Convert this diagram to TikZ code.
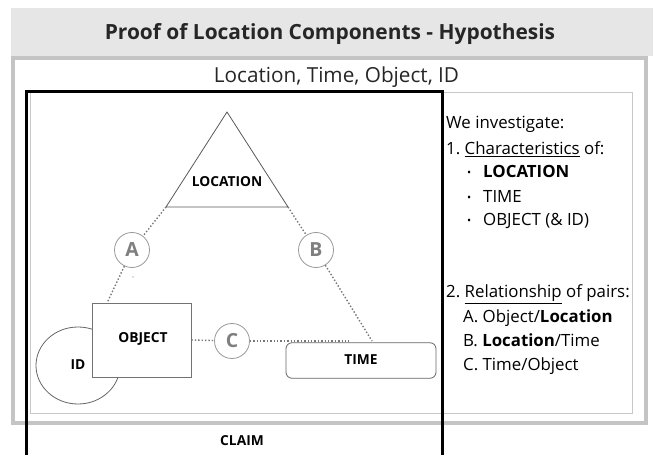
\documentclass[tikz,border=0pt]{standalone}
\usepackage{fontspec}
\setmainfont{Open Sans}
\usetikzlibrary{shapes.geometric}
\frenchspacing
\definecolor{bandgray}{HTML}{E6E6E6}
\definecolor{framegray}{HTML}{C4C4C4}
\definecolor{thingray}{HTML}{C8C8C8}
\definecolor{linkgray}{HTML}{777777}
\definecolor{lettergray}{HTML}{7F7F7F}
\tikzset{
  shapeline/.style={draw=black!65, line width=0.8bp, fill=white},
  link/.style={draw=linkgray, line width=1.4bp, dotted},
  letter/.style={circle, draw=black!40, line width=0.8bp, fill=white, minimum size=35bp, inner sep=0pt,
                 text=lettergray, font=\fontsize{19.5}{19}\selectfont\bfseries},
  label/.style={font=\fontsize{13.8}{14}\selectfont\bfseries, inner sep=0pt},
  listtext/.style={anchor=base west, inner sep=0pt, font=\fontsize{16.9}{17}\selectfont},
  bulletmark/.style={anchor=base west, inner sep=0pt, font=\fontsize{11}{11}\selectfont},
}
\begin{document}
\begin{tikzpicture}[x=1bp, y=-1bp]
  \useasboundingbox (0,0) rectangle (653,455);
  \fill[white] (0,0) rectangle (653,455);

  % header band and title
  \fill[bandgray] (11,8) rectangle (653,56);
  \node[font=\fontsize{21}{21}\selectfont\bfseries, text=black!85, anchor=base] (title) at (330,40) {Proof of Location Components - Hypothesis};

  % outer frame and inner panel
  \draw[framegray, line width=4bp] (12.5,58) rectangle (646,422.5);
  \draw[thingray, line width=1bp] (30,92.5) rectangle (632,413);
  \node[font=\fontsize{20.8}{21}\selectfont, text=black!85, anchor=base] (subtitle) at (336.5,83) {Location, Time, Object, ID};

  % claim frame, open at the bottom
  \draw[black, line width=3bp] (26,460) -- (26,91.5) -- (442.5,91.5) -- (442.5,460);
  \node[label] (claim) at (242,441) {CLAIM};

  % identity circle behind the object box
  \node[ellipse, draw=black!60, line width=0.8bp, minimum width=84bp, minimum height=77bp, inner sep=0pt] (id) at (78,365.5) {};
  \node[label] (idtext) at (78,365) {ID};

  % location triangle
  \coordinate (apex) at (227,112);
  \coordinate (locL) at (166,207);
  \coordinate (locR) at (288,207);
  \draw[shapeline] (apex) -- (locL) -- (locR) -- cycle;
  \node[label] (location) at (227,182) {LOCATION};

  % object box
  \node[shapeline, draw=black!55, minimum width=99bp, minimum height=74bp, inner sep=0pt] (object) at (141.5,340) {};
  \node[label] (objtext) at (143,339) {OBJECT};

  % time box
  \node[shapeline, draw=black!60, rounded corners=6bp, minimum width=150bp, minimum height=35.5bp, inner sep=0pt] (time) at (361,360.5) {};
  \node[label] (timetext) at (361,360) {TIME};

  % pair relations
  \node[letter] (A) at (132,250) {A};
  \node[letter] (B) at (316,250) {B};
  \node[letter] (C) at (232,341) {C};

  \coordinate (objTop) at (107,303);
  \coordinate (timeTop) at (372,341);
  \coordinate (cEnd) at (349,341);

  \draw[link] (locL) -- (A);
  \draw[link] (A) -- (objTop);
  \draw[link] (locR) -- (B);
  \draw[link] (B) -- (timeTop);
  \draw[link] (object.east) -- (C);
  \draw[link] (C) -- (cEnd);
  \fill[linkgray] (133,277) circle (0.6bp);

  % investigation list
  \node[listtext] (l1) at (446,129) {We investigate:};
  \node[listtext] (l2) at (446,155) {1. \underline{Characteristics} of:};
  \node[bulletmark] (b1) at (467,176.5) {•};
  \node[listtext, font=\fontsize{16.9}{17}\selectfont\bfseries] (l3) at (483,178) {LOCATION};
  \node[bulletmark] (b2) at (467,201.5) {•};
  \node[listtext] (l4) at (483,203) {TIME};
  \node[bulletmark] (b3) at (467,224.5) {•};
  \node[listtext] (l5) at (483,226) {OBJECT (\& ID)};
  \node[listtext] (l6) at (446,298) {2. \underline{Relationship} of pairs:};
  \node[listtext] (l7) at (463,323) {A. Object/\textbf{Location}};
  \node[listtext] (l8) at (463,346) {B. \textbf{Location}/Time};
  \node[listtext] (l9) at (463,370) {C. Time/Object};
\end{tikzpicture}
\end{document}
